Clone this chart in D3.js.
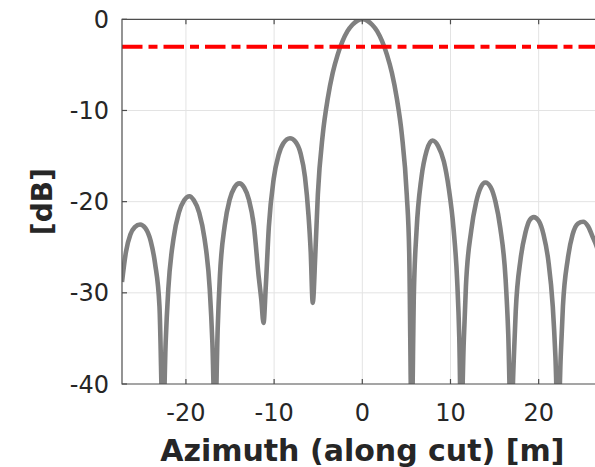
<!DOCTYPE html>
<html lang="en">
<head>
    <meta charset="UTF-8">
    <title>Azimuth cut</title>
    <style>
        body {
            margin: 0;
            padding: 0;
            background-color: #ffffff;
        }
        svg {
            display: block;
            font-family: "DejaVu Sans", sans-serif;
        }
        .tick-label {
            font-size: 24px;
            fill: #262626;
        }
        .axis-title {
            font-size: 30px;
            font-weight: bold;
            fill: #262626;
        }
    </style>
    <script src="https://d3js.org/d3.v7.min.js"></script>
</head>
<body>
    <svg id="chart" width="595" height="467"></svg>

    <script>
        // azimuth position along the cut [m] and response [dB]
        const azimuth = [
            -27.25, -26.8, -26.3, -25.8, -25.2, -24.6, -24.0, -23.5, -23.0, -22.6,
            -22.3, -22.0, -21.4, -20.8, -20.2, -19.6, -19.1, -18.5, -17.9, -17.3, -17.0, -16.7,
            -16.4, -16.15, -15.6, -15.05, -14.5, -13.95, -13.4, -12.85, -12.3, -11.75, -11.45, -11.2,
            -10.95, -10.6, -10.05, -9.5, -8.95, -8.2, -7.6, -7.0, -6.5, -6.1, -5.85, -5.62,
            -5.32, -5.04, -4.48, -3.92, -3.36, -2.8, -2.24, -1.68, -1.12, -0.56, 0,
            0.56, 1.12, 1.68, 2.24, 2.8, 3.36, 3.92, 4.48, 5.04, 5.32, 5.6,
            5.85, 6.15, 6.7, 7.3, 7.95, 8.6, 9.25, 9.8, 10.35, 10.75, 11.0, 11.2,
            11.5, 11.75, 12.35, 12.9, 13.45, 13.95, 14.55, 15.1, 15.65, 16.25, 16.55, 16.86,
            17.15, 17.4, 17.95, 18.5, 19.0, 19.45, 20.0, 20.55, 21.1, 21.6, 21.9, 22.2,
            22.5, 22.75, 23.3, 23.85, 24.45, 25.05, 25.6, 26.1, 26.6, 27.25
        ];
        const powerDb = [
            -28.8, -25.5, -23.6, -22.8, -22.5, -22.9, -24.3, -26.8, -31.5, -45,
            -35.5, -29.6, -24.0, -21.2, -19.85, -19.4, -19.85, -21.2, -24.0, -29.6, -35.5, -45,
            -34.0, -28.2, -22.6, -19.8, -18.45, -18.0, -18.45, -19.8, -22.6, -28.2, -30.8, -33.3,
            -29.4, -22.8, -17.5, -14.9, -13.6, -13.05, -13.4, -14.7, -17.3, -21.5, -25.5, -31.1,
            -25.6, -19.2, -12.6, -8.7, -5.9, -3.9, -2.4, -1.3, -0.6, -0.15, 0,
            -0.15, -0.6, -1.3, -2.4, -3.9, -5.9, -8.7, -12.6, -19.2, -25.6, -45,
            -30.0, -23.2, -17.4, -14.4, -13.3, -13.9, -15.6, -18.5, -23.0, -28.5, -35.0, -45,
            -35.5, -29.3, -23.2, -20.1, -18.4, -17.9, -18.4, -20.0, -22.9, -28.5, -34.5, -45,
            -38.0, -32.0, -26.3, -23.4, -22.0, -21.7, -22.1, -23.6, -26.5, -31.5, -37.0, -45,
            -37.0, -31.5, -26.3, -23.6, -22.4, -22.2, -22.7, -23.8, -25.0, -28.0
        ];
        const thresholdDb = -3;

        const xTicks = [-20, -10, 0, 10, 20];
        const yTicks = [0, -10, -20, -30, -40];

        const xLabel = "Azimuth (along cut) [m]";
        const yLabel = "[dB]";

        const points = azimuth.map((a, i) => ({ x: a, y: powerDb[i] }));

        const svg = d3.select("#chart");

        // plot box (right side runs past the window edge, like the original)
        const boxLeft = 122, boxTop = 19.3, boxRight = 602.6, boxBottom = 384;

        const x = d3.scaleLinear().domain([-27.25, 27.25]).range([boxLeft, boxRight]);
        const y = d3.scaleLinear().domain([-40, 0]).range([boxBottom, boxTop]);

        svg.append("defs").append("clipPath")
            .attr("id", "plot-clip")
            .append("rect")
            .attr("x", boxLeft)
            .attr("y", boxTop)
            .attr("width", boxRight - boxLeft)
            .attr("height", boxBottom - boxTop);

        // grid
        const grid = svg.append("g")
            .attr("stroke", "#e3e3e3")
            .attr("stroke-width", 1);

        grid.selectAll("line.vgrid")
            .data(xTicks)
            .enter().append("line")
            .attr("class", "vgrid")
            .attr("x1", d => x(d))
            .attr("x2", d => x(d))
            .attr("y1", boxTop)
            .attr("y2", boxBottom);

        grid.selectAll("line.hgrid")
            .data(yTicks.filter(d => d !== 0 && d !== -40))
            .enter().append("line")
            .attr("class", "hgrid")
            .attr("x1", boxLeft)
            .attr("x2", boxRight)
            .attr("y1", d => y(d))
            .attr("y2", d => y(d));

        // data
        const plot = svg.append("g").attr("clip-path", "url(#plot-clip)");

        const line = d3.line()
            .x(d => x(d.x))
            .y(d => y(d.y))
            .curve(d3.curveMonotoneX);

        plot.append("path")
            .datum(points)
            .attr("fill", "none")
            .attr("stroke", "#808080")
            .attr("stroke-width", 4.6)
            .attr("stroke-linejoin", "round")
            .attr("d", line);

        plot.append("line")
            .attr("x1", x(-27.25))
            .attr("x2", x(27.25))
            .attr("y1", y(thresholdDb))
            .attr("y2", y(thresholdDb))
            .attr("stroke", "#ff0000")
            .attr("stroke-width", 4)
            .attr("stroke-dasharray", "20.5,6,9,6");

        // axes box
        const axes = svg.append("g")
            .attr("stroke", "#4d4d4d")
            .attr("stroke-width", 1.2)
            .attr("fill", "none");

        axes.append("path")
            .attr("d", `M${boxRight},${boxTop}H${boxLeft}V${boxBottom}H${boxRight}`);

        // inward ticks
        axes.selectAll("line.xt-bottom")
            .data(xTicks)
            .enter().append("line")
            .attr("class", "xt-bottom")
            .attr("x1", d => x(d)).attr("x2", d => x(d))
            .attr("y1", boxBottom).attr("y2", boxBottom - 5);

        axes.selectAll("line.xt-top")
            .data(xTicks)
            .enter().append("line")
            .attr("class", "xt-top")
            .attr("x1", d => x(d)).attr("x2", d => x(d))
            .attr("y1", boxTop).attr("y2", boxTop + 5);

        axes.selectAll("line.yt")
            .data(yTicks)
            .enter().append("line")
            .attr("class", "yt")
            .attr("x1", boxLeft).attr("x2", boxLeft + 5)
            .attr("y1", d => y(d)).attr("y2", d => y(d));

        // tick labels
        svg.append("g").selectAll("text")
            .data(xTicks)
            .enter().append("text")
            .attr("class", "tick-label")
            .attr("x", d => x(d))
            .attr("y", 421)
            .attr("text-anchor", "middle")
            .text(d => d);

        svg.append("g").selectAll("text")
            .data(yTicks)
            .enter().append("text")
            .attr("class", "tick-label")
            .attr("x", 109)
            .attr("y", d => y(d))
            .attr("dy", "0.36em")
            .attr("text-anchor", "end")
            .text(d => d);

        // titles
        svg.append("text")
            .attr("class", "axis-title")
            .attr("x", (boxLeft + boxRight) / 2)
            .attr("y", 461)
            .attr("text-anchor", "middle")
            .text(xLabel);

        svg.append("text")
            .attr("class", "axis-title")
            .attr("transform", `translate(52, ${(boxTop + boxBottom) / 2}) rotate(-90)`)
            .attr("text-anchor", "middle")
            .style("font-size", "28px")
            .text(yLabel);
    </script>
</body>
</html>
